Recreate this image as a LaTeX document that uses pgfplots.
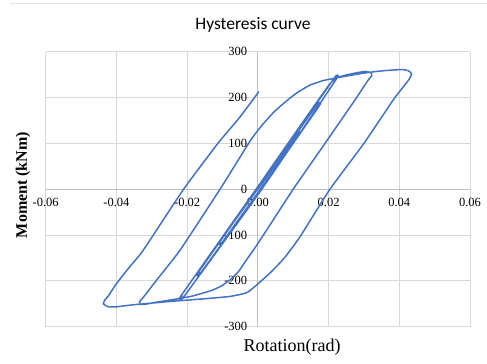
\documentclass[border=0pt]{standalone}
\usepackage{pgfplots}
\pgfplotsset{compat=1.18}
\usepackage{fontspec}
\setmainfont{Liberation Serif}
\newfontfamily\calibri{Carlito}
\definecolor{gridgray}{RGB}{217,217,217}
\definecolor{axisgray}{RGB}{190,190,190}
\definecolor{curveblue}{RGB}{68,114,196}
\begin{document}
\begin{tikzpicture}
\useasboundingbox (0,0) rectangle (487bp,364bp);
\draw[gray!20, line width=0.6bp] (10bp,361bp) -- (487bp,361bp);
\begin{axis}[
  at={(45.7bp,37.3bp)}, anchor=south west,
  width=424.3bp, height=275bp, scale only axis,
  xmin=-0.06, xmax=0.06, ymin=-300, ymax=300,
  xtick={-0.06,-0.04,-0.02,0,0.02,0.04,0.06},
  ytick={-300,-200,-100,0,100,200,300},
  scaled x ticks=false, scaled y ticks=false,
  axis lines=middle,
  axis line style={-, draw=axisgray, line width=0.9bp},
  grid=major, major grid style={draw=gridgray, line width=0.8bp},
  tick style={draw=none},
  hide obscured x ticks=false, hide obscured y ticks=false,
  x tick label style={font=\rmfamily\fontsize{12.5bp}{14bp}\selectfont, yshift=-3bp,
    /pgf/number format/fixed, /pgf/number format/fixed zerofill,
    /pgf/number format/precision=2, /pgf/number format/assume math mode=true},
  y tick label style={font=\rmfamily\fontsize{12.5bp}{14bp}\selectfont, xshift=-5bp,
    /pgf/number format/fixed, /pgf/number format/assume math mode=true},
  clip=false,
]
\addplot[curveblue, line width=1.5bp, smooth, tension=0.3] coordinates {
(0.0000,0) (0.0110,118) (0.0113,116) (0.0007,0) (-0.0100,-115) (-0.0106,-118) (-0.0108,-114)
(-0.0001,0) (0.0165,182) (0.0170,184) (0.0172,180) (0.0009,0) (-0.0160,-181) (-0.0165,-184) (-0.0167,-180)
(-0.0003,0) (0.0212,238) (0.0218,242) (0.0220,238) (0.0011,0) (-0.0205,-230) (-0.0216,-235) (-0.0214,-229)
(-0.0005,0) (0.0200,226) (0.0235,246) (0.0280,254) (0.0305,257) (0.0320,254) (0.0322,248) (0.0310,236)
(0.0275,195) (0.0190,100) (0.0100,0) (0.0025,-89) (-0.0010,-130) (-0.0032,-154) (-0.0055,-180)
(-0.0079,-198) (-0.0105,-212) (-0.0135,-222) (-0.0190,-234) (-0.0249,-242) (-0.0290,-247) (-0.0318,-251)
(-0.0333,-251) (-0.0335,-246) (-0.0325,-237) (-0.0300,-212) (-0.0286,-198) (-0.0220,-133) (-0.0107,0)
(-0.0022,105) (0.0010,138) (0.0045,168) (0.0080,192) (0.0110,210) (0.0147,227) (0.0185,237) (0.0223,243)
(0.0289,252) (0.0336,257) (0.0380,260) (0.0411,261) (0.0427,258) (0.0435,251) (0.0428,240) (0.0411,223)
(0.0383,195) (0.0300,100) (0.0204,0) (0.0119,-104) (0.0075,-150) (0.0034,-183) (-0.0008,-212)
(-0.0032,-226) (-0.0079,-234) (-0.0150,-239) (-0.0249,-245) (-0.0350,-252) (-0.0405,-257) (-0.0425,-256)
(-0.0437,-250) (-0.0432,-241) (-0.0423,-233) (-0.0399,-205) (-0.0362,-169) (-0.0324,-133) (-0.0210,0)
(-0.0112,101) (-0.0050,158) (0.0003,213)
};
\end{axis}
\node[font=\calibri\fontsize{17.5bp}{20bp}\selectfont] at (253bp,339bp) {Hysteresis curve};
\node[font=\fontsize{18bp}{21bp}\selectfont] at (292bp,17bp) {Rotation(rad)};
\node[font=\bfseries\fontsize{16bp}{19bp}\selectfont, rotate=90] at (23bp,179bp) {Moment (kNm)};
\end{tikzpicture}
\end{document}
